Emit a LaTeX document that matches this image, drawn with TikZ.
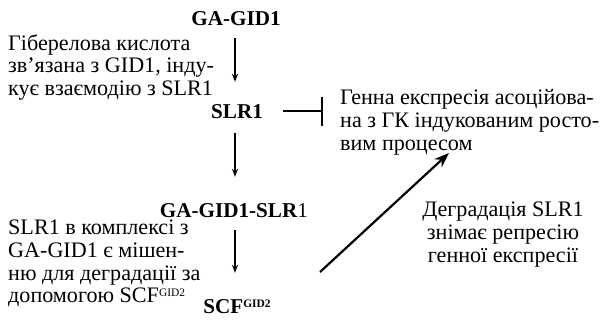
\documentclass[tikz,border=0pt]{standalone}
\usepackage{fontspec}
\setmainfont{Liberation Serif}
\usetikzlibrary{arrows.meta}
\newcommand{\gidsup}{\raisebox{6bp}{\fontsize{11.5}{12}\selectfont GID2}}
\tikzset{
	gene/.style={inner sep=0pt,anchor=base,font=\fontsize{21.2}{23}\selectfont\bfseries},
	note/.style={inner sep=0pt,anchor=north west,align=left,font=\fontsize{22.2}{22.8}\selectfont},
	flow/.style={line width=1.5bp,-{Stealth[length=8bp,width=6bp]}},
	block/.style={line width=2bp,-{Bar[width=29bp,line width=2.5bp]}},
	release/.style={line width=2.2bp,-{Stealth[length=15bp,width=11bp]}}
}
\begin{document}
\begin{tikzpicture}[x=1bp,y=-1bp]
	\useasboundingbox (0,0) rectangle (606,320);

	\node [gene] (ga) at (236,25) {GA-GID1};
	\node [gene] (slr) at (237,118) {SLR1};
	\node [gene] (complex) at (234,217) {GA-GID1-SLR\textmd{1}};
	\node [gene] (scf) at (237,313) {SCF\gidsup};

	\node [note] (bind) at (8,34) {Гіберелова кислота\\зв’язана з GID1, інду-\\кує взаємодію з SLR1};
	\node [note] (target) at (8,220) {SLR1 в комплексі з\\GA-GID1 є мішен-\\ню для деградації за\\допомогою SCF\gidsup};
	\node [note] (expr) at (340,89.5) {Генна експресія асоційова-\\на з ГК індукованим росто-\\вим процесом};
	\node [note,anchor=north,align=center] (degr) at (503,202) {Деградація SLR1\\знімає репресію\\генної експресії};

	\coordinate (d0) at (320,272);
	\coordinate (d1) at (449,153);

	\draw [flow,shorten <=13bp,shorten >=22bp] (ga.south -| 235,0) -- (slr.north -| 235,0);
	\draw [flow,shorten <=15bp,shorten >=26bp] (slr.south -| 235,0) -- (complex.north -| 235,0);
	\draw [flow,shorten <=13bp,shorten >=26bp] (complex.south -| 235,0) -- (scf.north -| 235,0);
	\draw [block,shorten <=20bp,shorten >=17bp] (slr.east) -- (slr.east -| expr.west);
	\draw [release] (d0) -- (d1);
\end{tikzpicture}
\end{document}
